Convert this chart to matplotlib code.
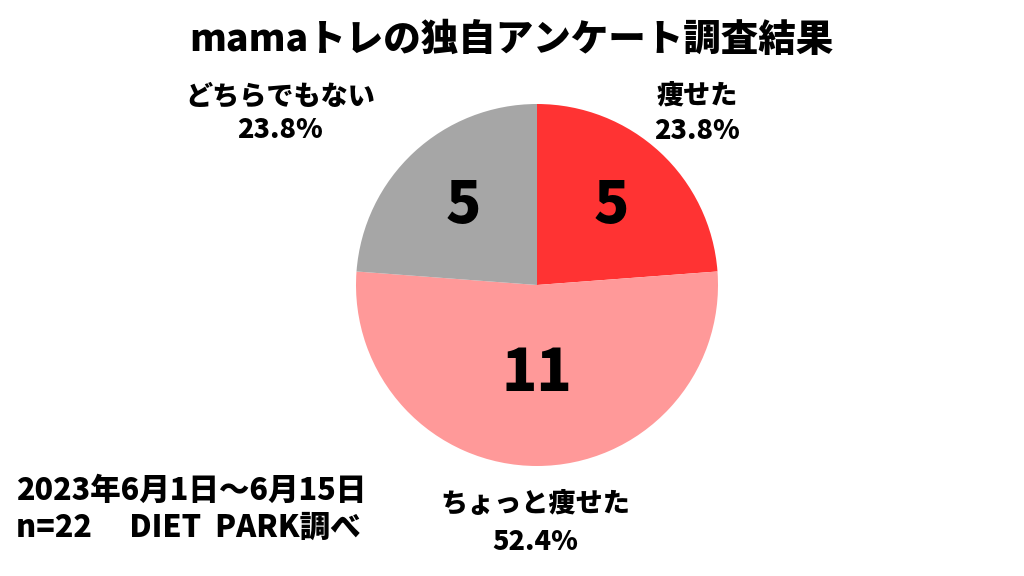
import matplotlib
matplotlib.use("Agg")
import matplotlib.pyplot as plt
import numpy as np

plt.rcParams["font.family"] = ["Noto Sans CJK JP", "DejaVu Sans"]

labels = ["痩せた", "ちょっと痩せた", "どちらでもない"]
counts = [5, 11, 5]
colors = ["#FF3333", "#FF9999", "#A6A6A6"]
title = "mamaトレの独自アンケート調査結果"
note_lines = ["2023年6月1日～6月15日", "n=22　 DIET  PARK調べ"]

total = sum(counts)
pcts = [c / total * 100 for c in counts]

fig = plt.figure(figsize=(10.24, 5.76), dpi=100)
fig.patch.set_facecolor("white")

# pie axes: center ~ (537, 285) px, radius ~181 px
ax = fig.add_axes([356 / 1024, 1 - 466 / 576, 362 / 1024, 362 / 576])
wedges, _ = ax.pie(counts, colors=colors, startangle=90, counterclock=False,
                   radius=1.0, wedgeprops=dict(linewidth=0))
ax.set_xlim(-1, 1)
ax.set_ylim(-1, 1)
ax.set_aspect("equal")
ax.axis("off")

# counts inside the slices
for w, c in zip(wedges, counts):
    mid = np.deg2rad((w.theta1 + w.theta2) / 2)
    d = 0.6 if c < 10 else 0.49
    ax.text(d * np.cos(mid), d * np.sin(mid), str(c), ha="center", va="center",
            fontsize=42, fontweight="black", color="black")

# outside labels (name + percentage), pixel centres
label_pos = {"痩せた": (697, 95, 131),
             "ちょっと痩せた": (535, 504, 542),
             "どちらでもない": (280, 96, 130)}
for lab, p in zip(labels, pcts):
    x, y1, y2 = label_pos[lab]
    fig.text(x / 1024, 1 - y1 / 576, lab, ha="center", va="center",
             fontsize=19.5, fontweight="heavy")
    fig.text(x / 1024, 1 - y2 / 576, f"{p:.1f}%", ha="center", va="center",
             fontsize=19.5, fontweight="heavy")

fig.text(511 / 1024, 1 - 40 / 576, title, ha="center", va="center",
         fontsize=27, fontweight="black")

fig.text(16 / 1024, 1 - 490 / 576, note_lines[0], ha="left", va="center",
         fontsize=22, fontweight="heavy")
fig.text(16 / 1024, 1 - 527 / 576, note_lines[1], ha="left", va="center",
         fontsize=22, fontweight="heavy")

fig.savefig("out.png", dpi=100)
